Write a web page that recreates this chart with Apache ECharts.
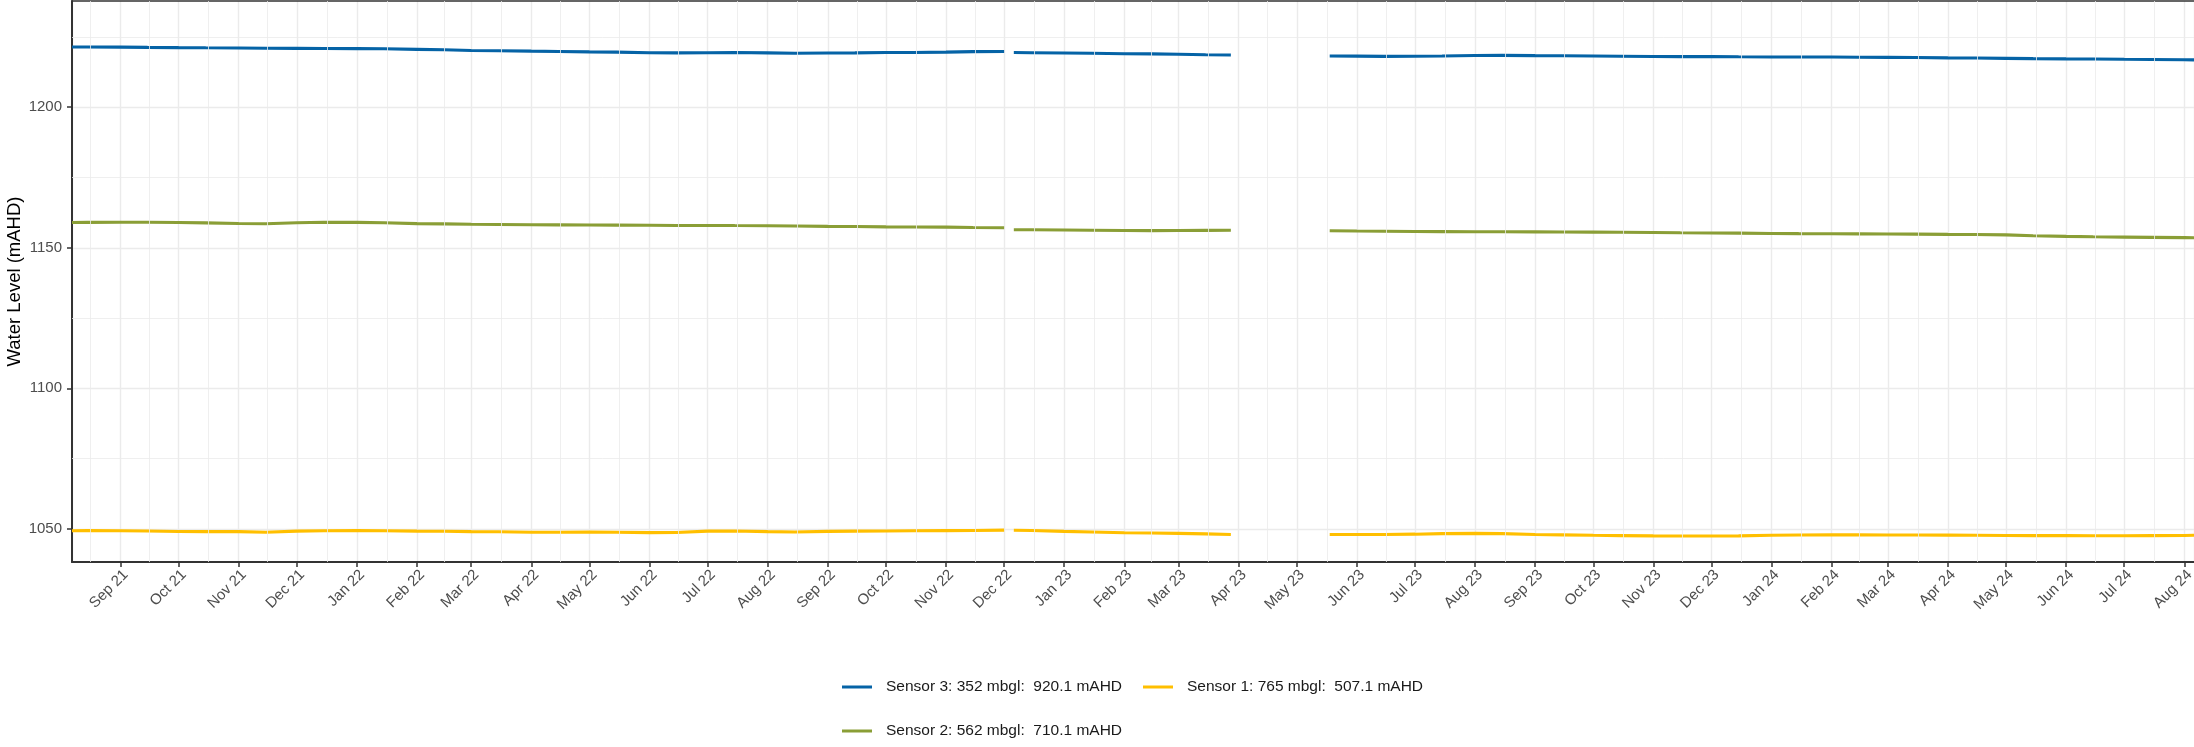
<!DOCTYPE html>
<html>
<head>
<meta charset="utf-8">
<title>Water Level</title>
<script src="https://cdn.jsdelivr.net/npm/echarts@6/dist/echarts.min.js"></script>
<style>
  html, body { margin: 0; padding: 0; background: #ffffff; }
  #chart { width: 2194px; height: 747px; }
</style>
</head>
<body>
<div id="chart"></div>
<script>
// Sample dates (UTC); null values mark logger gaps
const dates = [
  "2021-08-07","2021-08-15","2021-09-01","2021-09-15","2021-10-01","2021-10-15","2021-11-01","2021-11-15",
  "2021-12-01","2021-12-15","2022-01-01","2022-01-15","2022-02-01","2022-02-15","2022-03-01","2022-03-15",
  "2022-04-01","2022-04-15","2022-05-01","2022-05-15","2022-06-01","2022-06-15","2022-07-01","2022-07-15",
  "2022-08-01","2022-08-15","2022-09-01","2022-09-15","2022-10-01","2022-10-15","2022-11-01","2022-11-15",
  "2022-12-01",
  "2022-12-03",
  "2022-12-06","2022-12-15","2023-01-01","2023-01-15","2023-02-01","2023-02-15","2023-03-01","2023-03-15",
  "2023-03-28",
  "2023-04-20",
  "2023-05-18","2023-06-01","2023-06-15","2023-07-01","2023-07-15","2023-08-01","2023-08-15","2023-09-01",
  "2023-09-15","2023-10-01","2023-10-15","2023-11-01","2023-11-15","2023-12-01","2023-12-15","2024-01-01",
  "2024-01-15","2024-02-01","2024-02-15","2024-03-01","2024-03-15","2024-04-01","2024-04-15","2024-05-01",
  "2024-05-15","2024-06-01","2024-06-15","2024-07-01","2024-07-15","2024-08-01","2024-08-06"
];

const sensor3 = [
  1221.45,1221.45,1221.4,1221.3,1221.2,1221.15,1221.1,1221.0,
  1220.95,1220.9,1220.85,1220.8,1220.6,1220.45,1220.2,1220.1,
  1219.95,1219.85,1219.7,1219.6,1219.4,1219.35,1219.4,1219.45,
  1219.35,1219.2,1219.3,1219.35,1219.45,1219.5,1219.6,1219.8,
  1219.85,
  null,
  1219.45,1219.4,1219.3,1219.2,1219.05,1219.0,1218.85,1218.7,
  1218.6,
  null,
  1218.25,1218.2,1218.1,1218.15,1218.25,1218.4,1218.45,1218.35,
  1218.3,1218.25,1218.15,1218.05,1218.0,1218.0,1217.95,1217.9,
  1217.9,1217.85,1217.8,1217.75,1217.7,1217.55,1217.5,1217.4,
  1217.3,1217.2,1217.15,1217.05,1217.0,1216.9,1216.85
];

const sensor2 = [
  1159.0,1159.05,1159.1,1159.1,1159.0,1158.85,1158.65,1158.55,
  1158.9,1159.1,1159.05,1158.9,1158.6,1158.5,1158.35,1158.3,
  1158.2,1158.15,1158.1,1158.05,1158.0,1157.95,1157.95,1157.9,
  1157.85,1157.75,1157.6,1157.55,1157.45,1157.4,1157.35,1157.2,
  1157.1,
  null,
  1156.4,1156.4,1156.35,1156.25,1156.15,1156.1,1156.15,1156.2,
  1156.25,
  null,
  1156.05,1155.95,1155.9,1155.8,1155.75,1155.7,1155.7,1155.65,
  1155.6,1155.55,1155.5,1155.45,1155.35,1155.25,1155.2,1155.1,
  1155.05,1155.0,1154.95,1154.9,1154.85,1154.75,1154.7,1154.6,
  1154.3,1154.05,1153.9,1153.8,1153.7,1153.6,1153.55
];

const sensor1 = [
  1049.3,1049.35,1049.3,1049.25,1049.05,1049.0,1049.0,1048.8,
  1049.2,1049.3,1049.35,1049.3,1049.2,1049.15,1049.0,1048.95,
  1048.8,1048.8,1048.85,1048.8,1048.65,1048.7,1049.2,1049.25,
  1049.0,1048.9,1049.1,1049.2,1049.25,1049.3,1049.35,1049.4,
  1049.55,
  null,
  1049.5,1049.4,1049.1,1048.9,1048.6,1048.5,1048.4,1048.2,
  1048.0,
  null,
  1048.0,1048.0,1048.0,1048.1,1048.3,1048.4,1048.3,1048.0,
  1047.85,1047.7,1047.6,1047.5,1047.45,1047.45,1047.5,1047.7,
  1047.8,1047.85,1047.85,1047.8,1047.8,1047.75,1047.7,1047.65,
  1047.6,1047.6,1047.55,1047.55,1047.6,1047.65,1047.7
];

const seriesNames = [
  "Sensor 3: 352 mbgl:  920.1 mAHD",
  "Sensor 1: 765 mbgl:  507.1 mAHD",
  "Sensor 2: 562 mbgl:  710.1 mAHD"
];
const seriesColors = ["#0563a6", "#ffbf00", "#8a9e36"];

const yMajorTicks = [1050, 1100, 1150, 1200];
const yMinorTicks = [1075, 1125, 1175, 1225];
const monthNames = ["Jan","Feb","Mar","Apr","May","Jun","Jul","Aug","Sep","Oct","Nov","Dec"];

const X_MIN = Date.UTC(2021, 7, 7);
const X_MAX = Date.UTC(2024, 7, 6);
const Y_MIN = 1038.2;
const Y_MAX = 1237.8;
const DAY = 86400000;
const FONT = "Liberation Sans, Arial, Helvetica, sans-serif";

function toTime(s) {
  const p = s.split("-").map(Number);
  return Date.UTC(p[0], p[1] - 1, p[2]);
}
function pairs(values) {
  return dates.map((d, i) => [toTime(d), values[i]]);
}

// minor vertical grid: midpoints between consecutive month starts
const minorX = [];
for (let y = 2021, m = 6; y < 2024 || m <= 8; ) {
  const a = Date.UTC(y, m, 1);
  const b = Date.UTC(y, m + 1, 1);
  const mid = (a + b) / 2;
  if (mid > X_MIN && mid < X_MAX) minorX.push(mid);
  m++;
  if (m > 11) { m = 0; y++; }
}

const minorLine = { color: "#ebebeb", width: 0.8, type: "solid" };
const gridMarks = yMinorTicks.map(v => ({ yAxis: v, lineStyle: minorLine }))
  .concat(minorX.map(t => ({ xAxis: t, lineStyle: minorLine })));

function lineSeries(name, values, color) {
  return {
    type: "line",
    name: name,
    data: pairs(values),
    showSymbol: false,
    symbol: "none",
    connectNulls: false,
    z: 3,
    lineStyle: { color: color, width: 3.1 },
    itemStyle: { color: color },
    emphasis: { disabled: true }
  };
}

function legendAt(name, left, top) {
  return {
    data: [name],
    left: left,
    top: top,
    orient: "horizontal",
    icon: "rect",
    itemWidth: 30,
    itemHeight: 3,
    selectedMode: false,
    padding: 0,
    textStyle: { fontFamily: FONT, fontSize: 15.5, color: "#1a1a1a", padding: [0, 0, 0, 9], lineHeight: 18 }
  };
}

const chart = echarts.init(document.getElementById("chart"), null, { renderer: "canvas" });
chart.setOption({
  animation: false,
  useUTC: true,
  backgroundColor: "#ffffff",
  textStyle: { fontFamily: FONT },
  grid: { left: 72, right: 0, top: 1, bottom: 185, containLabel: false, outerBoundsMode: "none" },
  legend: [
    legendAt(seriesNames[0], 842, 678),
    legendAt(seriesNames[1], 1143, 678),
    legendAt(seriesNames[2], 842, 722)
  ],
  xAxis: [
    {
      type: "time",
      min: X_MIN,
      max: X_MAX,
      minInterval: 30 * DAY,
      maxInterval: 30 * DAY,
      axisLine: { show: true, lineStyle: { color: "#333333", width: 2 } },
      axisTick: { show: true, length: 5, lineStyle: { color: "#333333", width: 1.5 } },
      axisLabel: {
        interval: 0,
        rotate: 45,
        margin: 5,
        fontSize: 15,
        color: "#4d4d4d",
        fontFamily: FONT,
        verticalAlign: "top",
        showMinLabel: false,
        showMaxLabel: false,
        hideOverlap: false,
        formatter: function (value) {
          const d = new Date(value);
          if (d.getUTCDate() !== 1 || d.getUTCHours() !== 0) return "";
          return monthNames[d.getUTCMonth()] + " " + String(d.getUTCFullYear() % 100).padStart(2, "0");
        }
      },
      splitLine: { show: true, lineStyle: { color: "#ebebeb", width: 1.4 } }
    },
    {
      type: "time",
      position: "top",
      min: X_MIN,
      max: X_MAX,
      axisLine: { show: true, onZero: false, lineStyle: { color: "#333333", width: 1.5 } },
      axisTick: { show: false },
      axisLabel: { show: false },
      splitLine: { show: false }
    }
  ],
  yAxis: {
    type: "value",
    min: Y_MIN,
    max: Y_MAX,
    splitNumber: 4,
    name: "Water Level (mAHD)",
    nameLocation: "middle",
    nameRotate: 90,
    nameGap: 48,
    nameMoveOverlap: false,
    nameTextStyle: { fontFamily: FONT, fontSize: 18.5, color: "#000000" },
    axisLine: { show: true, lineStyle: { color: "#333333", width: 2 } },
    axisTick: { show: true, length: 5, customValues: yMajorTicks, lineStyle: { color: "#333333", width: 1.5 } },
    axisLabel: {
      fontSize: 15,
      color: "#4d4d4d",
      fontFamily: FONT,
      margin: 10,
      customValues: yMajorTicks,
      formatter: function (v) { return String(v); }
    },
    splitLine: { show: true, lineStyle: { color: "#ebebeb", width: 1.4 } }
  },
  series: [
    {
      type: "line",
      name: "grid-minor",
      data: [],
      z: 1,
      silent: true,
      markLine: {
        silent: true,
        symbol: "none",
        label: { show: false },
        emphasis: { disabled: true },
        animation: false,
        data: gridMarks
      }
    },
    lineSeries(seriesNames[0], sensor3, seriesColors[0]),
    lineSeries(seriesNames[1], sensor1, seriesColors[1]),
    lineSeries(seriesNames[2], sensor2, seriesColors[2])
  ]
});
</script>
</body>
</html>
